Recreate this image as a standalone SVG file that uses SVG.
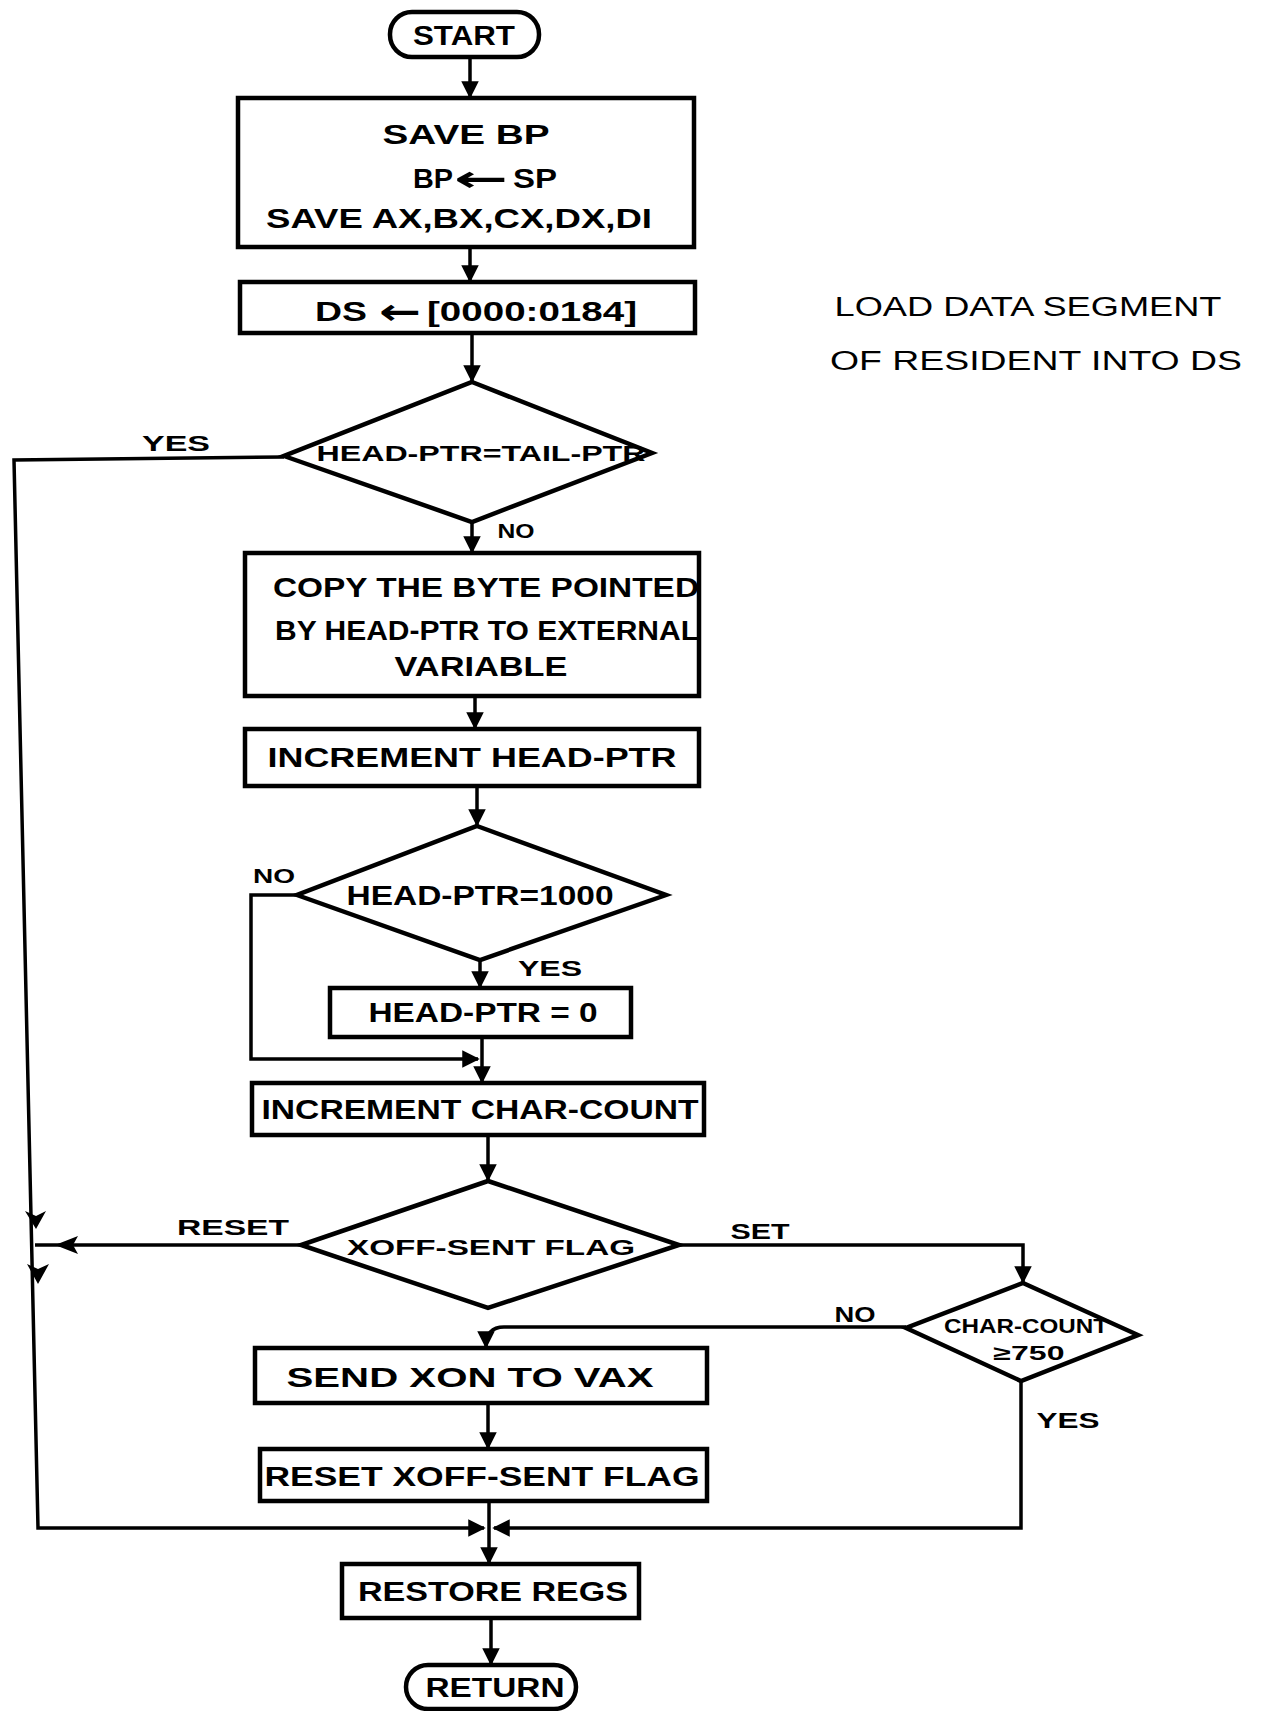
<svg xmlns="http://www.w3.org/2000/svg" width="1264" height="1711" viewBox="0 0 1264 1711">
<defs>
<marker id="ah" viewBox="0 0 10 10" refX="9" refY="5" markerWidth="5" markerHeight="5" orient="auto" markerUnits="strokeWidth">
<path d="M0,0 L10,5 L0,10 z" fill="#000"/>
</marker>
<style>
.n{fill:#fff;stroke:#000;stroke-width:4.5}
.c{fill:none;stroke:#000;stroke-width:3.5}
.t{font-family:"Liberation Sans",Arial,sans-serif;font-weight:bold;font-size:27px;fill:#000;text-anchor:middle}
.s{font-size:22px}
.l{font-size:20px}
.h{fill:#000}
.ar{font-family:"DejaVu Sans",sans-serif;font-weight:bold;font-size:36px;fill:#000;text-anchor:middle}
</style>
</defs>
<rect width="1264" height="1711" fill="#fff"/>

<g id="connectors">
<line class="c" x1="470" y1="57" x2="470" y2="97" marker-end="url(#ah)"/>
<line class="c" x1="470" y1="247" x2="470" y2="281" marker-end="url(#ah)"/>
<line class="c" x1="472" y1="333" x2="472" y2="381" marker-end="url(#ah)"/>
<polyline class="c" points="284,457 14,460 38,1528 484,1528" marker-end="url(#ah)"/>
<line class="c" x1="472" y1="522" x2="472" y2="552" marker-end="url(#ah)"/>
<line class="c" x1="475" y1="696" x2="475" y2="728" marker-end="url(#ah)"/>
<line class="c" x1="477" y1="786" x2="477" y2="825" marker-end="url(#ah)"/>
<polyline class="c" points="297,895 251,895 251,1059 478,1059" marker-end="url(#ah)"/>
<line class="c" x1="480" y1="960" x2="480" y2="987" marker-end="url(#ah)"/>
<line class="c" x1="482" y1="1037" x2="482" y2="1082" marker-end="url(#ah)"/>
<line class="c" x1="488" y1="1135" x2="488" y2="1180" marker-end="url(#ah)"/>
<line class="c" x1="301" y1="1245" x2="35" y2="1245"/>
<path class="h" d="M55,1245 L78,1236 L73,1245 L78,1254 z"/>
<path class="h" d="M25,1211 L36,1229 L46,1211 L36,1216 z"/>
<path class="h" d="M27,1264 L38,1284 L49,1264 L38,1269 z"/>
<polyline class="c" points="679,1245 1023,1245 1023,1282" marker-end="url(#ah)"/>
<path class="c" d="M906,1327 L504,1327 Q486,1327 486,1347" marker-end="url(#ah)"/>
<line class="c" x1="488" y1="1403" x2="488" y2="1448" marker-end="url(#ah)"/>
<polyline class="c" points="1021,1381 1021,1528 494,1528" marker-end="url(#ah)"/>
<line class="c" x1="489" y1="1501" x2="489" y2="1563" marker-end="url(#ah)"/>
<line class="c" x1="491" y1="1618" x2="491" y2="1664" marker-end="url(#ah)"/>
</g>

<g id="start">
<rect class="n" x="390" y="12" width="149" height="45" rx="22"/>
<text class="t" x="464" y="45" textLength="102" lengthAdjust="spacingAndGlyphs">START</text>
</g>

<g id="save-regs">
<rect class="n" x="238" y="98" width="456" height="149"/>
<text class="t" x="466" y="144" textLength="167" lengthAdjust="spacingAndGlyphs">SAVE BP</text>
<text class="t" x="433" y="188" textLength="40" lengthAdjust="spacingAndGlyphs">BP</text>
<text class="ar" x="481" y="191" textLength="54" lengthAdjust="spacingAndGlyphs">←</text>
<text class="t" x="535" y="188" textLength="44" lengthAdjust="spacingAndGlyphs">SP</text>
<text class="t" x="459" y="228" textLength="386" lengthAdjust="spacingAndGlyphs">SAVE AX,BX,CX,DX,DI</text>
</g>

<g id="load-ds">
<rect class="n" x="240" y="282" width="455" height="51"/>
<text class="t" x="341" y="321" textLength="52" lengthAdjust="spacingAndGlyphs">DS</text>
<text class="ar" x="400" y="324" textLength="42" lengthAdjust="spacingAndGlyphs">←</text>
<text class="t" x="532" y="321" textLength="210" lengthAdjust="spacingAndGlyphs">[0000:0184]</text>
</g>

<g id="note">
<text class="t" x="1028" y="316" textLength="387" lengthAdjust="spacingAndGlyphs" style="font-weight:normal">LOAD  DATA  SEGMENT</text>
<text class="t" x="1036" y="370" textLength="412" lengthAdjust="spacingAndGlyphs" style="font-weight:normal">OF  RESIDENT  INTO DS</text>
</g>

<g id="dec-head-tail">
<polygon class="n" points="472,382 652,453 472,522 284,456"/>
<text class="t s" x="481" y="461" textLength="329" lengthAdjust="spacingAndGlyphs">HEAD-PTR=TAIL-PTR</text>
<text class="t s" x="176" y="451" textLength="68" lengthAdjust="spacingAndGlyphs">YES</text>
<text class="t l" x="516" y="538" textLength="37" lengthAdjust="spacingAndGlyphs">NO</text>
</g>

<g id="copy-byte">
<rect class="n" x="245" y="553" width="454" height="143"/>
<text class="t" x="486" y="597" textLength="426" lengthAdjust="spacingAndGlyphs">COPY THE BYTE POINTED</text>
<text class="t" x="487" y="640" textLength="424" lengthAdjust="spacingAndGlyphs">BY HEAD-PTR TO EXTERNAL</text>
<text class="t" x="481" y="676" textLength="173" lengthAdjust="spacingAndGlyphs">VARIABLE</text>
</g>

<g id="inc-head">
<rect class="n" x="245" y="729" width="454" height="57"/>
<text class="t" x="472" y="767" textLength="409" lengthAdjust="spacingAndGlyphs">INCREMENT  HEAD-PTR</text>
</g>

<g id="dec-head-1000">
<polygon class="n" points="477,826 666,895 480,960 297,895"/>
<text class="t" x="480" y="905" textLength="267" lengthAdjust="spacingAndGlyphs">HEAD-PTR=1000</text>
<text class="t l" x="274" y="883" textLength="42" lengthAdjust="spacingAndGlyphs">NO</text>
<text class="t s" x="550" y="976" textLength="64" lengthAdjust="spacingAndGlyphs">YES</text>
</g>

<g id="head-zero">
<rect class="n" x="330" y="988" width="301" height="49"/>
<text class="t" x="483" y="1022" textLength="229" lengthAdjust="spacingAndGlyphs">HEAD-PTR = 0</text>
</g>

<g id="inc-char">
<rect class="n" x="252" y="1083" width="452" height="52"/>
<text class="t" x="480" y="1119" textLength="437" lengthAdjust="spacingAndGlyphs">INCREMENT  CHAR-COUNT</text>
</g>

<g id="dec-xoff">
<polygon class="n" points="488,1181 679,1245 488,1308 301,1245"/>
<text class="t s" x="491" y="1255" textLength="288" lengthAdjust="spacingAndGlyphs">XOFF-SENT  FLAG</text>
<text class="t s" x="233" y="1235" textLength="112" lengthAdjust="spacingAndGlyphs">RESET</text>
<text class="t s" x="760" y="1239" textLength="59" lengthAdjust="spacingAndGlyphs">SET</text>
</g>

<g id="dec-charcount">
<polygon class="n" points="1023,1283 1138,1335 1021,1381 906,1328"/>
<text class="t l" x="1026" y="1333" textLength="164" lengthAdjust="spacingAndGlyphs">CHAR-COUNT</text>
<text class="t l" x="1029" y="1360" textLength="71" lengthAdjust="spacingAndGlyphs">≥750</text>
<text class="t s" x="855" y="1322" textLength="41" lengthAdjust="spacingAndGlyphs">NO</text>
<text class="t s" x="1068" y="1428" textLength="63" lengthAdjust="spacingAndGlyphs">YES</text>
</g>

<g id="send-xon">
<rect class="n" x="255" y="1348" width="452" height="55"/>
<text class="t" x="470" y="1387" textLength="367" lengthAdjust="spacingAndGlyphs">SEND  XON TO  VAX</text>
</g>

<g id="reset-xoff">
<rect class="n" x="260" y="1449" width="447" height="52"/>
<text class="t" x="482" y="1486" textLength="435" lengthAdjust="spacingAndGlyphs">RESET XOFF-SENT  FLAG</text>
</g>

<g id="restore">
<rect class="n" x="342" y="1564" width="297" height="54"/>
<text class="t" x="493" y="1601" textLength="270" lengthAdjust="spacingAndGlyphs">RESTORE  REGS</text>
</g>

<g id="return">
<rect class="n" x="406" y="1665" width="170" height="44" rx="22"/>
<text class="t" x="495" y="1697" textLength="139" lengthAdjust="spacingAndGlyphs">RETURN</text>
</g>
</svg>
